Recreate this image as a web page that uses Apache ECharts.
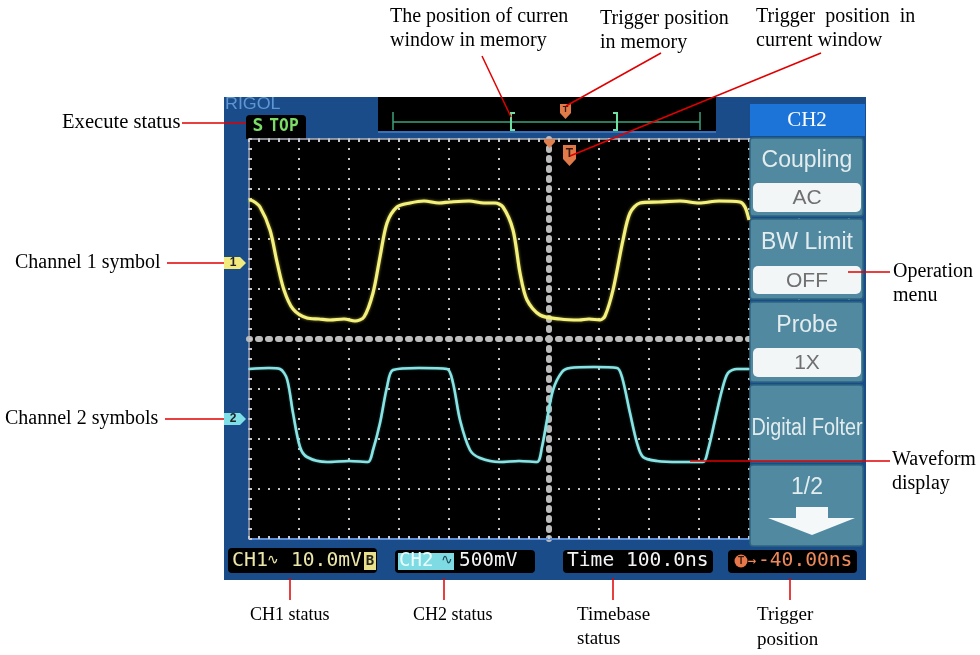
<!DOCTYPE html>
<html><head><meta charset="utf-8">
<script src="https://cdn.jsdelivr.net/npm/echarts@6/dist/echarts.min.js"></script>
<style>html,body{margin:0;padding:0;background:#fff}#c{width:980px;height:655px}</style>
</head><body><div id="c"></div>
<script>
// ---- data (time in ns, amplitude in screen divisions) ----
const ch1Time = [-600,-592,-578,-558,-544,-530,-512,-484,-460,-438,-410,-388,-370,-352,-338,-324,-304,-278,-250,-220,-198,-160,-130,-108,-92,-72,-58,-44,-18,22,60,80,102,112,128,148,162,182,220,262,300,340,382,392,400];
const ch1Div  = [2.78,2.76,2.64,2.18,1.54,0.98,0.60,0.42,0.40,0.38,0.40,0.36,0.44,0.92,1.64,2.32,2.64,2.72,2.76,2.72,2.74,2.76,2.72,2.72,2.64,2.18,1.32,0.78,0.48,0.40,0.38,0.40,0.38,0.46,0.98,1.98,2.52,2.72,2.74,2.76,2.72,2.76,2.74,2.64,2.38];
const ch2Time = [-600,-560,-538,-524,-512,-498,-484,-444,-400,-362,-352,-338,-324,-312,-260,-204,-192,-178,-158,-138,-98,-60,-24,-14,-4,8,26,42,90,136,146,162,176,188,216,260,308,318,332,346,358,376,400];
const ch2Div  = [-0.60,-0.58,-0.60,-0.80,-1.48,-2.16,-2.36,-2.46,-2.44,-2.46,-2.22,-1.68,-0.96,-0.62,-0.58,-0.60,-0.88,-1.62,-2.22,-2.38,-2.46,-2.44,-2.46,-2.16,-1.62,-1.02,-0.66,-0.58,-0.56,-0.58,-0.76,-1.48,-2.08,-2.36,-2.44,-2.46,-2.46,-2.22,-1.62,-1.02,-0.68,-0.60,-0.60];
const timeRange = [-600, 600, 100];   // 12 div x 100 ns
const voltRange = [-4, 4, 1];         // 8 divisions
const menuTitle = 'CH2';
const menuLabels = ['Coupling', 'BW Limit', 'Probe', 'Digital Folter', '1/2'];
const menuValues = ['AC', 'OFF', '1X'];
const statusCH1 = ['CH1', '∿', '10.0mV', 'B'];
const statusCH2 = ['CH2', '∿', '500mV'];
const statusTime = 'Time 100.0ns';
const statusTrig = ['→', '-40.00ns'];
const runState = 'STOP';
const brand = 'RIGOL';

const SERIF = '"Liberation Serif","Times New Roman",serif';
const SANS = '"Liberation Sans",Arial,sans-serif';
const MONO = '"DejaVu Sans Mono",monospace';

const G = [];
function R(x,y,w,h,fill,o){o=o||{};G.push({type:'rect',silent:true,z:o.z!=null?o.z:-20,shape:{x:x,y:y,width:w,height:h,r:o.r||0},style:{fill:fill,stroke:o.stroke||null,lineWidth:o.lw||0}});}
function T(str,x,y,o){o=o||{};G.push({type:'text',silent:true,z:o.z!=null?o.z:30,x:x,y:y,scaleX:o.sx||1,style:{text:str,fill:o.fill||'#000',fontSize:o.size||20,fontFamily:o.family||SERIF,fontWeight:o.weight||'normal',align:o.align||'left',verticalAlign:'middle',textAlign:o.align||'left',textVerticalAlign:'middle'}});}
function L(x1,y1,x2,y2,c,w,z){G.push({type:'line',silent:true,z:z!=null?z:30,shape:{x1:x1,y1:y1,x2:x2,y2:y2},style:{stroke:c,lineWidth:w||1.5}});}
function P(pts,fill,z){G.push({type:'polygon',silent:true,z:z!=null?z:25,shape:{points:pts},style:{fill:fill}});}
function PL(pts,c,w,z){G.push({type:'polyline',silent:true,z:z!=null?z:25,shape:{points:pts},style:{stroke:c,lineWidth:w,fill:null}});}

// scope body
R(224,97,642,483,'#1a4c8a',{z:-30});
R(248,139,502,401,'#000',{z:-25});
T(brand,225,104,{family:SANS,size:17,fill:'#5e96d4',z:-19,sx:1.05});
R(246,115,60,24,'#000',{r:[4,4,0,0],z:-19});
T('S',258,126,{family:MONO,size:18,weight:'bold',fill:'#7cdc68',align:'center',z:-18});
T('TOP',284,126,{family:MONO,size:18,weight:'bold',fill:'#7cdc68',align:'center',z:-18,sx:0.9});
// memory bar
R(378,97,338,35,'#000',{z:-19});
L(378,132,716,132,'#3a70b8',2,-18);
L(393,122,700,122,'#3aa37a',1.5,-18);
L(393,112,393,130,'#3aa37a',1.5,-18);
L(700,112,700,130,'#3aa37a',1.5,-18);
PL([[515,113],[511,113],[511,130],[515,130]],'#6ee0a0',2,-18);
PL([[613,113],[617,113],[617,130],[613,130]],'#6ee0a0',2,-18);
// trigger markers
P([[560,104],[571,104],[571,113],[565.5,119],[560,113]],'#e07a48',20);
P([[544,139],[555,139],[555,142],[549.5,148],[544,142]],'#e08050',20);
P([[563,145],[576,145],[576,159],[569.5,166],[563,159]],'#e07a48',20);
T('T',569.5,154,{family:SANS,size:12,weight:'bold',fill:'#3a1a10',align:'center',z:21});
T('T',565.5,110,{family:SANS,size:9,weight:'bold',fill:'#3a1a10',align:'center',z:21});
// channel markers
P([[224,257],[240,257],[246,263],[240,269],[224,269]],'#f2ea7c',20);
T('1',233,263,{family:SANS,size:12,weight:'bold',fill:'#222',align:'center',z:21});
P([[224,413],[240,413],[246,419],[240,425],[224,425]],'#7edfe6',20);
T('2',233,419,{family:SANS,size:12,weight:'bold',fill:'#222',align:'center',z:21});

// menu
R(750,104,115,32,'#1c74d8',{z:20});
T(menuTitle,807,120,{family:SERIF,size:21,fill:'#fff',align:'center',z:21});
const secs=[[138,216],[219,299],[302,382],[385,462],[465,546]];
const labelY=[161,243,326,429,488];
const boxY=[[183,212],[266,294],[348,377]];
secs.forEach(function(s,i){
  R(750,s[0],113,s[1]-s[0],'#5089a0',{stroke:'#2d6580',lw:1.5,r:3,z:20});
  T(menuLabels[i],807,labelY[i],{family:SANS,size:23,fill:'#e3ecee',align:'center',z:21,sx:i===3?0.86:1});
  if(i<3){
    R(753,boxY[i][0],108,boxY[i][1]-boxY[i][0],'#f2f6f6',{r:5,z:21});
    T(menuValues[i],807,(boxY[i][0]+boxY[i][1])/2+1,{family:SANS,size:21,fill:'#707070',align:'center',z:22});
  }
});
P([[796,507],[828,507],[828,518],[855,518],[812,535],[768,518],[796,518]],'#f4f8f8',22);

// status bar
R(228,548,149,25,'#000',{r:4,z:-19});
T(statusCH1[0],232,561,{family:MONO,size:20,fill:'#ece6a8',z:-18});
T(statusCH1[1],273,560,{family:MONO,size:14,fill:'#ece6a8',align:'center',z:-18});
T(statusCH1[2],291,561,{family:MONO,size:20,fill:'#ece6a8',z:-18,sx:0.98});
R(364,552,12,18,'#e8e08a',{z:-18});
T(statusCH1[3],370,561,{family:MONO,size:14,weight:'bold',fill:'#222',align:'center',z:-17});
R(395,550,140,23,'#000',{r:4,z:-19});
R(398,553,56,17,'#7fdbe3',{z:-18});
T(statusCH2[0],399,561,{family:MONO,size:20,fill:'#e8ffff',z:-17,sx:0.95});
T(statusCH2[1],447,560,{family:MONO,size:14,fill:'#1e4e58',align:'center',z:-17});
T(statusCH2[2],459,561,{family:MONO,size:20,fill:'#f4f4f4',z:-17,sx:0.97});
R(563,550,150,23,'#000',{r:4,z:-19});
T(statusTime,567,561,{family:MONO,size:20,fill:'#f4f4f4',z:-18,sx:0.98});
R(728,550,129,23,'#000',{r:4,z:-19});
G.push({type:'circle',silent:true,z:-18,shape:{cx:741,cy:561,r:6.5},style:{fill:'#e8784a'}});
T('T',741,561,{family:SANS,size:10,weight:'bold',fill:'#3a1a10',align:'center',z:-17});
T(statusTrig[0],752,561,{family:MONO,size:14,fill:'#f0895a',align:'center',z:-18});
T(statusTrig[1],758,561,{family:MONO,size:20,fill:'#f0895a',z:-18,sx:0.98});

// annotations
const RED='#e00000';
T('Execute status',62,123,{sx:1.03}); L(182,123,246,123,RED);
T('Channel 1 symbol',15,263); L(167,263,224,263,RED);
T('Channel 2 symbols',5,419); L(165,419,224,419,RED);
T('The position of curren',390,17,{sx:1.0}); T('window in memory',390,41); L(482,56,511,117,RED);
T('Trigger position',600,19); T('in memory',600,43); L(661,53,566,106,RED);
T('Trigger  position  in',756,17,{sx:1.0}); T('current window',756,41); L(821,53,570,156,RED);
T('Operation',893,272); T('menu',893,296); L(848,272,890,272,RED);
T('Waveform',892,460); T('display',892,484); L(690,461,890,461,RED);
T('CH1 status',250,615,{size:18}); L(290,578,290,600,RED);
T('CH2 status',413,615,{size:18}); L(444,578,444,600,RED);
T('Timebase',577,615,{size:19}); T('status',577,639,{size:19}); L(613,578,613,600,RED);
T('Trigger',757,615,{size:19}); T('position',757,640,{size:19}); L(790,578,790,600,RED);

const dot={color:'#c4c4c4',width:2,type:[2,8],dashOffset:1};
function xa(extra){return Object.assign({type:'value',min:timeRange[0],max:timeRange[1],interval:timeRange[2],axisLabel:{show:false},splitLine:{show:false},axisTick:{show:false},z:1},extra);}
function ya(extra){return Object.assign({type:'value',min:voltRange[0],max:voltRange[1],interval:voltRange[2],axisLabel:{show:false},splitLine:{show:false},axisTick:{show:false},z:1},extra);}
const tickStyle={inside:true,length:3,lineStyle:{color:'#c8c8d0',width:2}};
const minor={show:true,splitNumber:5,length:3,lineStyle:{color:'#c8c8d0',width:2}};

const chart=echarts.init(document.getElementById('c'),null,{renderer:'canvas'});
chart.setOption({
  backgroundColor:'#fff',
  animation:false,
  grid:{left:249,top:139,width:600,height:400,containLabel:false},
  xAxis:[
    xa({axisLine:{show:true,onZero:true,lineStyle:{color:'#bcbcbc',width:6,type:[2,8],dashOffset:1}},splitLine:{show:true,lineStyle:dot}}),
    xa({position:'bottom',axisLine:{show:true,onZero:false,lineStyle:{color:'#5b8fd8',width:2}},axisTick:Object.assign({show:true},tickStyle),minorTick:minor}),
    xa({position:'top',axisLine:{show:true,onZero:false,lineStyle:{color:'#b0b4bc',width:1.5}},axisTick:Object.assign({show:true},tickStyle),minorTick:minor})
  ],
  yAxis:[
    ya({axisLine:{show:true,onZero:true,lineStyle:{color:'#bcbcbc',width:6,type:[2,8],dashOffset:1}},splitLine:{show:true,lineStyle:dot}}),
    ya({position:'left',axisLine:{show:true,onZero:false,lineStyle:{color:'#9fb0d0',width:1.5}},axisTick:Object.assign({show:true},tickStyle),minorTick:minor})
  ],
  graphic:{elements:G},
  series:[
    {type:'line',name:'CH1',xAxisIndex:0,yAxisIndex:0,showSymbol:false,smooth:0.3,z:5,
     data:ch1Time.map(function(t,i){return [t,ch1Div[i]];}),
     lineStyle:{color:'#f4f07c',width:3.2,shadowColor:'rgba(240,230,90,0.6)',shadowBlur:3}},
    {type:'line',name:'CH2',xAxisIndex:0,yAxisIndex:0,showSymbol:false,smooth:0.3,z:5,
     data:ch2Time.map(function(t,i){return [t,ch2Div[i]];}),
     lineStyle:{color:'#88e4e4',width:2.6,shadowColor:'rgba(120,220,220,0.5)',shadowBlur:2}}
  ]
});
</script></body></html>
